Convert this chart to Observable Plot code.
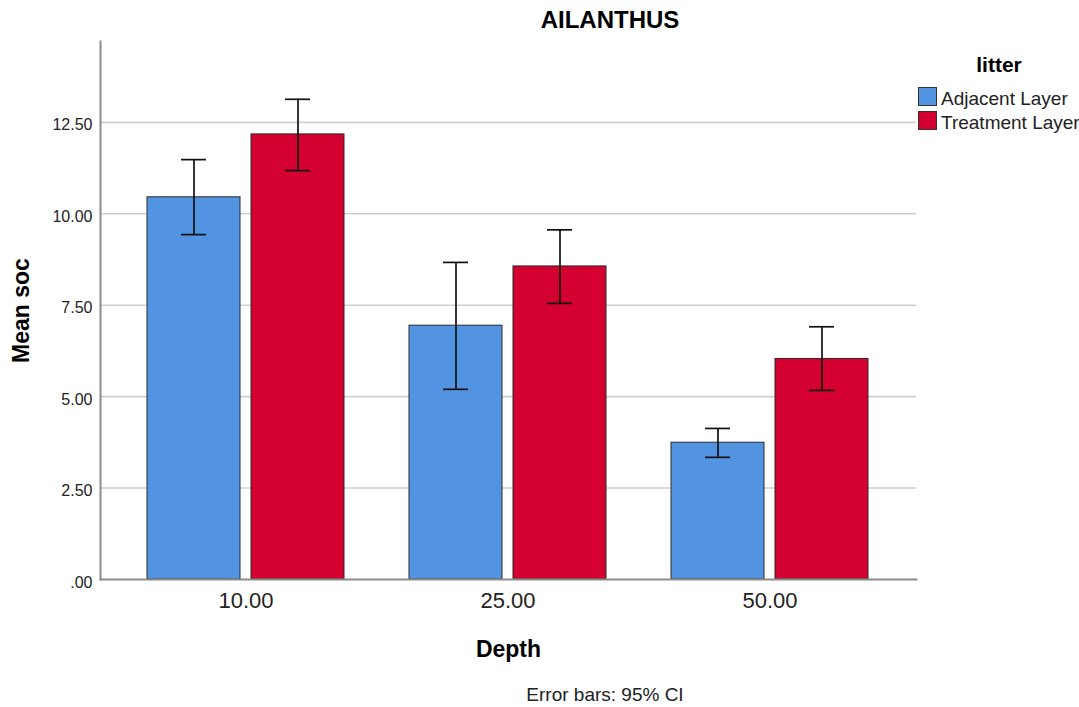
<!DOCTYPE html>
<html>
<head>
<meta charset="utf-8">
<script src="https://cdn.jsdelivr.net/npm/d3@7"></script>
<script src="https://cdn.jsdelivr.net/npm/@observablehq/plot@0.6"></script>
<style>
  body { margin: 0; background: #fff; font-family: "Liberation Sans", Arial, sans-serif; }
  #wrap { position: relative; width: 1079px; height: 707px; overflow: hidden; background: #fff; }
  #title { position: absolute; left: 410px; width: 400px; top: 8px; text-align: center; font-size: 24px; line-height: 24px; font-weight: bold; color: #000; }
  #chart { position: absolute; left: 0; top: 40px; }
  #caption { position: absolute; left: 455px; width: 300px; top: 685px; text-align: center; font-size: 19px; line-height: 19px; color: #222; }
  #legend-title { position: absolute; left: 949px; width: 100px; top: 54px; text-align: center; font-size: 21px; line-height: 21px; font-weight: bold; color: #000; }
  .sw { position: absolute; left: 918px; width: 17px; height: 17px; border: 1px solid #333; }
  .lt { position: absolute; left: 941px; font-size: 19px; line-height: 19px; color: #222; white-space: nowrap; }
</style>
</head>
<body>
<div id="wrap">
  <div id="title"></div>
  <div id="chart"></div>
  <div id="legend-title"></div>
  <div id="caption"></div>
</div>
<script>
const chartTitle = "AILANTHUS";
const legendTitle = "litter";
const captionText = "Error bars: 95% CI";
const xLabel = "Depth";
const yLabel = "Mean soc";

const depths = ["10.00", "25.00", "50.00"];
const litters = ["Adjacent Layer", "Treatment Layer"];
const colors = ["#5394e2", "#d40030"];

const adjacentMean = [10.45, 6.94, 3.74];
const adjacentLow  = [9.43, 5.20, 3.34];
const adjacentHigh = [11.48, 8.67, 4.13];

const treatmentMean = [12.17, 8.56, 6.03];
const treatmentLow  = [11.18, 7.55, 5.17];
const treatmentHigh = [13.13, 9.56, 6.91];

const yTicks = [0, 2.5, 5, 7.5, 10, 12.5];
const yTickLabels = [".00", "2.50", "5.00", "7.50", "10.00", "12.50"];
const yMax = 14.71;

const rows = depths.flatMap((d, i) => [
  {depth: d, litter: litters[0], mean: adjacentMean[i], lo: adjacentLow[i], hi: adjacentHigh[i]},
  {depth: d, litter: litters[1], mean: treatmentMean[i], lo: treatmentLow[i], hi: treatmentHigh[i]}
]);

document.getElementById("title").textContent = chartTitle;
document.getElementById("legend-title").textContent = legendTitle;
document.getElementById("caption").textContent = captionText;

const wrap = document.getElementById("wrap");
const swTops = [87, 111];
const txtTops = [89, 113];
litters.forEach((l, i) => {
  const sw = document.createElement("div");
  sw.className = "sw";
  sw.style.top = swTops[i] + "px";
  sw.style.background = colors[i];
  wrap.appendChild(sw);
  const t = document.createElement("div");
  t.className = "lt";
  t.style.top = txtTops[i] + "px";
  t.textContent = l;
  wrap.appendChild(t);
});

// layout (style) constants
const W = 1079, H = 630, mL = 100, mR = 163, mT = 1, mB = 91;
const padIn = 0.2466, padOut = 0.1758;
const step = (W - mL - mR) / (depths.length - padIn + 2 * padOut);
const bw = step * (1 - padIn);          // width of one depth group
const barGap = 10;
const barW = (bw - barGap) / 2;
const capW = 26;
const shift = (barW + barGap) / 2;
const capIn = (barW - capW) / 2;

const isA = d => d.litter === litters[0];
const isT = d => d.litter === litters[1];
const err = {stroke: "#111", strokeWidth: 1.7};
const barStyle = {fill: "litter", stroke: "#2a2a2a", strokeWidth: 1};

const chart = Plot.plot({
  width: W, height: H,
  marginLeft: mL, marginRight: mR, marginTop: mT, marginBottom: mB,
  style: {fontFamily: "'Liberation Sans', Arial, sans-serif", color: "#222", background: "transparent"},
  x: {domain: depths, paddingInner: padIn, paddingOuter: padOut},
  y: {domain: [0, yMax]},
  color: {domain: litters, range: colors},
  marks: [
    Plot.ruleY(yTicks.slice(1), {stroke: "#cfcfcf", strokeWidth: 1.6}),
    Plot.barY(rows, {filter: isA, x: "depth", y: "mean", insetRight: barW + barGap, ...barStyle}),
    Plot.barY(rows, {filter: isT, x: "depth", y: "mean", insetLeft: barW + barGap, ...barStyle}),
    Plot.ruleX(rows, {filter: isA, x: "depth", y1: "lo", y2: "hi", dx: -shift, ...err}),
    Plot.ruleX(rows, {filter: isT, x: "depth", y1: "lo", y2: "hi", dx: shift, ...err}),
    Plot.tickY(rows, {filter: isA, x: "depth", y: "lo", insetLeft: capIn, insetRight: capIn + barW + barGap, ...err}),
    Plot.tickY(rows, {filter: isA, x: "depth", y: "hi", insetLeft: capIn, insetRight: capIn + barW + barGap, ...err}),
    Plot.tickY(rows, {filter: isT, x: "depth", y: "lo", insetLeft: capIn + barW + barGap, insetRight: capIn, ...err}),
    Plot.tickY(rows, {filter: isT, x: "depth", y: "hi", insetLeft: capIn + barW + barGap, insetRight: capIn, ...err}),
    Plot.frame({anchor: "left", stroke: "#8c8c8c", strokeWidth: 2}),
    Plot.frame({anchor: "bottom", stroke: "#8c8c8c", strokeWidth: 2}),
    Plot.axisY(yTicks, {tickSize: 0, tickPadding: 8, dy: 3, fontSize: 16, label: null, fill: "#222",
      tickFormat: d => yTickLabels[yTicks.indexOf(d)]}),
    Plot.axisX({tickSize: 0, tickPadding: 13, fontSize: 22, label: null, fill: "#222"}),
    Plot.text([yLabel], {frameAnchor: "left", textAnchor: "middle", lineAnchor: "middle", rotate: -90,
      dx: -79, fontSize: 23, fontWeight: "bold", fill: "#000"}),
    Plot.text([xLabel], {frameAnchor: "bottom", textAnchor: "middle", lineAnchor: "middle", dy: 70.3,
      fontSize: 23, fontWeight: "bold", fill: "#000"})
  ]
});
document.getElementById("chart").appendChild(chart);
</script>
</body>
</html>
